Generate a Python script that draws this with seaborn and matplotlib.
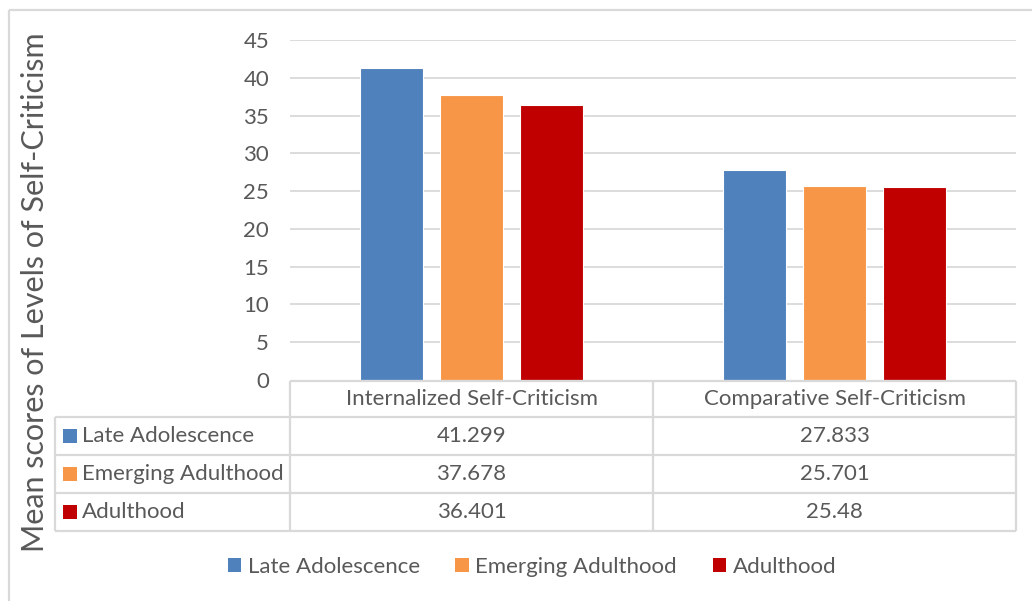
import matplotlib
matplotlib.use("Agg")
import matplotlib.pyplot as plt
from matplotlib.patches import Rectangle, Patch
import seaborn as sns
import pandas as pd

# Data
categories = ["Internalized Self-Criticism", "Comparative Self-Criticism"]
groups = ["Late Adolescence", "Emerging Adulthood", "Adulthood"]
late_adolescence = [41.299, 27.833]
emerging_adulthood = [37.678, 25.701]
adulthood = [36.401, 25.48]
yticks = [0, 5, 10, 15, 20, 25, 30, 35, 40, 45]
ylabel = "Mean scores of Levels of Self-Criticism"

colors = ["#4F81BD", "#F79646", "#C00000"]
text_color = "#595959"
grid_color = "#D9D9D9"

sns.set_theme(style="white")
plt.rcParams["font.family"] = ["Lato", "DejaVu Sans"]

series = [late_adolescence, emerging_adulthood, adulthood]
df = pd.DataFrame({
    "category": [c for vals in series for c in categories],
    "group": [g for g, vals in zip(groups, series) for _ in vals],
    "value": [v for vals in series for v in vals],
})

W, H = 1032, 601
fig = plt.figure(figsize=(W / 100, H / 100), dpi=100)

def fx(px):
    return px / W

def fy(py):
    return 1 - py / H

fs = 16

# Plot area
x0, x1, y_top, y_bot = 290, 1016, 40, 380
ax = fig.add_axes([fx(x0), fy(y_bot), fx(x1 - x0), (y_bot - y_top) / H])
sns.barplot(data=df, x="category", y="value", hue="group", order=categories,
            hue_order=groups, palette=colors, saturation=1, width=0.661,
            gap=0.2125, edgecolor="white", linewidth=0.8, legend=False, ax=ax)
ax.set_ylim(0, 45)
ax.set_xlim(-0.5, 1.5)
ax.set_yticks(yticks)
ax.set_yticklabels([str(t) for t in yticks], fontsize=fs, color=text_color)
ax.tick_params(axis="y", length=0, pad=15)
ax.set_xticks([])
ax.set_xlabel("")
ax.set_ylabel("")
for t in yticks[1:]:
    ax.axhline(t, color=grid_color, lw=1.3, zorder=0)
for s in ax.spines.values():
    s.set_visible(False)
ax.set_axisbelow(True)

# Data table beneath the plot area
tab = fig.add_axes([0, 0, 1, 1], facecolor="none")
tab.set_xlim(0, W)
tab.set_ylim(H, 0)
tab.axis("off")

lc = dict(color=grid_color, lw=1.6, solid_capstyle="butt")
col_edges = [290, 653, 1016]
row_edges = [381, 417, 455, 493, 531]
tab.plot([290, 1016], [row_edges[0]] * 2, **lc)
for r in row_edges[1:]:
    tab.plot([55, 1016], [r, r], **lc)
tab.plot([55, 55], [row_edges[1], row_edges[-1]], **lc)
for c in col_edges:
    tab.plot([c, c], [row_edges[0], row_edges[-1]], **lc)

for j, cat in enumerate(categories):
    cx = (col_edges[j] + col_edges[j + 1]) / 2
    tab.text(cx, (row_edges[0] + row_edges[1]) / 2, cat, ha="center",
             va="center", fontsize=fs, color=text_color)
for i, (g, vals) in enumerate(zip(groups, series)):
    cy = (row_edges[i + 1] + row_edges[i + 2]) / 2
    tab.add_patch(Rectangle((63, cy - 7), 14, 14, color=colors[i], lw=0))
    tab.text(82, cy, g, ha="left", va="center", fontsize=fs, color=text_color)
    for j, v in enumerate(vals):
        cx = (col_edges[j] + col_edges[j + 1]) / 2
        tab.text(cx, cy, f"{v:g}", ha="center", va="center", fontsize=fs,
                 color=text_color)

# Chart frame
tab.plot([9, W], [10, 10], **lc)
tab.plot([9, 9], [10, H], **lc)

# Axis title
fig.text(fx(35), fy(292), ylabel, rotation=90, ha="center", va="center",
         fontsize=22, color=text_color)

# Legend
handles = [Patch(facecolor=c, edgecolor="none") for c in colors]
fig.legend(handles, groups, loc="center", bbox_to_anchor=(fx(532), fy(567)),
           ncol=3, frameon=False, fontsize=fs, handlelength=0.6,
           handleheight=0.6, handletextpad=0.3, columnspacing=1.6,
           labelcolor=text_color)

fig.savefig("out.png", dpi=100)
